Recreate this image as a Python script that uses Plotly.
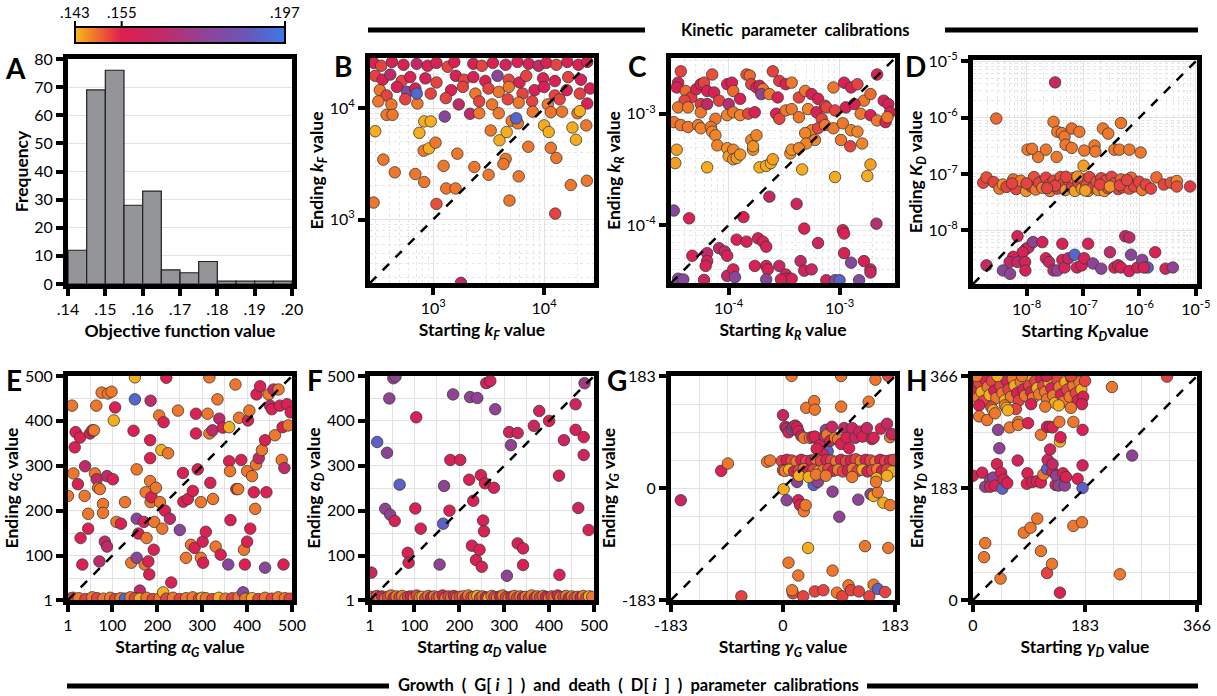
import math
import plotly.graph_objects as go

FONT = "Lato"
W, H = 1217, 696

# ---------------- data ----------------
HIST_BIN_CENTERS = [.1425, .1475, .1525, .1575, .1625, .1675, .1725, .1775, .1825, .1875, .1925, .1975]
HIST_COUNTS = [12, 69, 76, 28, 33, 5, 4, 8, 1, 1, 1, 1]

# (starting value, ending value, objective function value)
B_POINTS = [
    (290,25500,.156),(340,24000,.152),(425,26000,.157),(540,24500,.156),(710,25000,.165),(890,24000,.156),
    (1070,25500,.157),(1350,23500,.152),(1550,26000,.156),(2300,25000,.157),(2750,24000,.152),(3450,25500,.156),
    (4500,24500,.158),(5750,26000,.156),(7250,25000,.157),(8900,24000,.165),(10500,25500,.156),(12900,24500,.152),
    (16200,26000,.157),(20400,24500,.156),(24500,26000,.156),
    (300,19500,.152),(350,18000,.156),(410,20000,.165),(520,17500,.152),(620,19000,.156),(850,18500,.157),
    (1070,17000,.152),(1600,19500,.156),(1900,18000,.152),(2300,19000,.157),(2950,17500,.156),(3800,19500,.178),
    (4800,18000,.152),(6000,17000,.156),(6900,19500,.152),(9800,18500,.157),(12500,17500,.156),(16500,19000,.152),
    (21500,18000,.158),
    (330,14500,.148),(380,13000,.152),(470,15500,.157),(580,14000,.178),(690,15000,.156),(950,13500,.152),
    (1450,14500,.156),(1850,15500,.152),(2400,13500,.148),(3150,15000,.152),(3900,14000,.148),(4800,15500,.148),
    (6400,13500,.152),(8200,14500,.157),(10000,15500,.156),(12500,13000,.152),(16000,14500,.157),(21000,13500,.152),
    (26000,15000,.157),
    (320,11500,.148),(420,10800,.148),(560,12000,.152),(720,11000,.148),(1300,12300,.152),(1700,10800,.165),
    (2600,11500,.152),(3400,10800,.148),(4700,12000,.152),(5900,11200,.148),(7800,11500,.152),(10800,10800,.148),
    (13800,12000,.152),(24500,11000,.157),
    (300,6200,.144),(355,3450,.148),(450,2650,.148),(290,1420,.148),(830,2170,.148),(690,2560,.148),(820,4150,.148),
    (915,4350,.144),(1050,4900,.148),(830,7600,.144),(950,7600,.144),(750,6000,.144),(1240,3030,.148),(1310,1900,.148),
    (1590,1900,.148),(1070,1380,.151),(1650,3900,.148),(2350,2960,.148),(3160,2520,.148),(3300,6300,.148),
    (3960,5150,.144),(4600,6100,.144),(4500,3500,.148),(4300,3150,.148),(4870,1480,.148),(5900,2440,.148),
    (7200,4500,.148),(5100,7700,.148),(5800,7300,.148),(5600,8100,.192),(10000,7000,.144),(11000,6100,.144),
    (11500,4400,.148),(12900,3570,.148),(12600,1130,.152),(18000,6700,.144),(19400,5200,.144),(17400,2040,.148),
    (24300,2230,.148),(24000,7000,.148),(1270,8400,.178),(710,13500,.192),(1780,270,.165),(2150,8900,.165),
    (2600,9000,.148),(3900,9000,.148),(7900,9300,.148),(11500,9200,.148),(14500,9300,.148),(20000,9000,.148),
    (21000,9400,.144),(380,8700,.148),(430,8700,.148),
]

C_POINTS = [
    (3.5e-5,1.9e-3,.156),(3.4e-5,1.72e-3,.157),(3.7e-5,2.4e-3,.152),(4.1e-5,1.6e-3,.149),(4.6e-5,1.4e-3,.153),
    (5.1e-5,1.66e-3,.156),(5.6e-5,1.84e-3,.157),(6.0e-5,1.9e-3,.152),(6.4e-5,1.6e-3,.156),(7.1e-5,2.25e-3,.151),
    (7.4e-5,1.55e-3,.157),(8.2e-5,1.31e-3,.152),(9.7e-5,1.84e-3,.156),(1.0e-4,1.22e-3,.168),(1.07e-4,1.9e-3,.157),
    (1.1e-4,1.6e-3,.149),(1.27e-4,1.36e-3,.156),(1.45e-4,2.25e-3,.151),(1.55e-4,2.2e-3,.149),(1.6e-4,1.84e-3,.152),
    (1.78e-4,1.72e-3,.157),(1.9e-4,1.78e-3,.156),(2.04e-4,1.66e-3,.148),(1.97e-4,1.5e-3,.175),(2.33e-4,1.5e-3,.148),
    (2.5e-4,2.4e-3,.152),(2.77e-4,1.4e-3,.157),(2.86e-4,1.97e-3,.153),(3.27e-4,1.84e-3,.156),(3.7e-4,1.9e-3,.148),
    (4.3e-4,1.4e-3,.152),(4.9e-4,1.6e-3,.148),(5.6e-4,1.5e-3,.157),(6.4e-4,1.36e-3,.156),(7.4e-4,1.18e-3,.152),
    (8.8e-4,1.72e-3,.148),(1.1e-3,1.9e-3,.156),(1.27e-3,1.72e-3,.157),(1.45e-3,1.84e-3,.152),(1.66e-3,1.31e-3,.148),
    (1.9e-3,1.5e-3,.149),(2.18e-3,2.25e-3,.155),(2.5e-3,1.31e-3,.156),(2.75e-3,1.22e-3,.157),(4.0e-5,1.31e-3,.152),
    (5.6e-5,1.22e-3,.153),
    (3.5e-5,1.14e-3,.148),(4.3e-5,1.14e-3,.148),(5.6e-5,1.03e-3,.148),(6.4e-5,1.22e-3,.165),(7.6e-5,9.0e-4,.148),
    (9.7e-5,9.7e-4,.147),(1.1e-4,1.03e-3,.148),(1.27e-4,9.7e-4,.147),(1.5e-4,1.0e-3,.152),(1.72e-4,1.03e-3,.156),
    (2.68e-4,1.0e-3,.156),(2.86e-4,9.0e-4,.152),(3.27e-4,1.07e-3,.148),(3.7e-4,1.1e-3,.148),(4.3e-4,9.3e-4,.148),
    (5.2e-4,1.1e-3,.147),(6.2e-4,1.03e-3,.156),(6.9e-4,9.0e-4,.152),(7.6e-4,1.14e-3,.152),(9.1e-4,1.07e-3,.152),
    (1.14e-3,1.14e-3,.156),(1.36e-3,1.22e-3,.156),(1.55e-3,1.0e-3,.148),(1.9e-3,9.7e-4,.156),(2.18e-3,8.7e-4,.148),
    (2.6e-3,8.4e-4,.156),(2.86e-3,1.03e-3,.156),
    (3.2e-5,8.4e-4,.148),(3.7e-5,7.9e-4,.148),(4.3e-5,7.6e-4,.148),(5.3e-5,7.9e-4,.148),(5.6e-5,7.4e-4,.147),
    (6.9e-5,7.6e-4,.148),(7.1e-5,6.9e-4,.147),(7.6e-5,6.4e-4,.147),(5.6e-4,7.1e-4,.147),(6.4e-4,7.4e-4,.152),
    (7.4e-4,7.9e-4,.148),(8.8e-4,7.4e-4,.148),(1.07e-3,8.2e-4,.148),(1.27e-3,7.1e-4,.147),(2.7e-3,9.3e-4,.148),
    (6.0e-4,5.8e-4,.147),(4.9e-4,6.7e-4,.147),(5.0e-4,5.4e-4,.147),(1.03e-3,5.8e-4,.148),(1.45e-3,6.9e-4,.147),
    (1.6e-3,5.4e-4,.147),(1.25e-3,5.1e-4,.152),
    (3.4e-5,4.75e-4,.145),(3.3e-5,3.6e-4,.145),(6.4e-5,3.3e-4,.144),(7.9e-5,5.2e-4,.147),(9.7e-5,4.9e-4,.146),
    (1.0e-4,4.15e-4,.145),(1.1e-4,4.75e-4,.147),(1.1e-4,3.9e-4,.146),(1.18e-4,4.0e-4,.145),(1.27e-4,4.3e-4,.146),
    (1.6e-4,5.8e-4,.147),(1.66e-4,4.75e-4,.146),(1.66e-4,5.1e-4,.146),(1.78e-4,6.4e-4,.147),(1.9e-4,3.3e-4,.144),
    (2.18e-4,3.4e-4,.144),(2.4e-4,3.6e-4,.144),(2.5e-4,3.9e-4,.145),(3.6e-4,4.4e-4,.146),(3.7e-4,4.75e-4,.146),
    (4.3e-4,4.9e-4,.147),(4.6e-4,3.16e-4,.144),(9.1e-4,2.7e-4,.144),(1.78e-3,2.76e-4,.144),(1.9e-3,3.5e-4,.145),
    (3.2e-5,1.35e-4,.178),(4.4e-5,1.15e-4,.157),(1.36e-4,1.18e-4,.156),(2.33e-4,1.8e-4,.163),(4.1e-4,1.55e-4,.160),
    (4.8e-4,9.3e-5,.157),(1.07e-3,9.0e-5,.157),(1.1e-3,8.4e-5,.156),(2.15e-3,1.03e-4,.168),(4.7e-5,5.3e-5,.157),
    (6.4e-5,5.6e-5,.165),(6.4e-5,4.75e-5,.158),(8.2e-5,6.2e-5,.165),(9.2e-5,5.8e-5,.165),(9.7e-5,5.3e-5,.158),
    (6.2e-5,4.3e-5,.157),(9.7e-5,3.5e-5,.163),(1.1e-4,4.0e-5,.157),(1.14e-4,3.4e-5,.178),(1.18e-4,7.4e-5,.157),
    (1.45e-4,7.1e-5,.158),(1.72e-4,4.3e-5,.157),(1.84e-4,7.6e-5,.158),(2.04e-4,7.1e-5,.157),(2.18e-4,6.4e-5,.157),
    (2.18e-4,4.3e-5,.158),(2.25e-4,4.0e-5,.156),(2.86e-4,4.3e-5,.163),(3.27e-4,3.6e-5,.158),(3.4e-4,3.3e-5,.157),
    (3.7e-4,3.3e-5,.157),(4.45e-4,4.75e-5,.165),(4.8e-4,3.9e-5,.157),(5.6e-4,4.0e-5,.163),(6.4e-4,6.9e-5,.160),
    (7.6e-4,3.2e-5,.158),(9.1e-4,3.2e-5,.180),(1.1e-3,5.6e-5,.157),(1.27e-3,4.6e-5,.178),(1.5e-3,3.2e-5,.180),
    (1.66e-3,4.75e-5,.157),(1.9e-3,4.0e-5,.157),(1.9e-3,3.75e-5,.163),(3.5e-5,3.3e-5,.180),(3.9e-5,3.25e-5,.178),
    (6.0e-5,3.22e-5,.160),(2.18e-4,3.25e-5,.178),(2.96e-4,3.25e-5,.158),(1.0e-3,3.2e-5,.190),
]

D_POINTS = [
    (2.9e-9,9.6e-7,.149),(3.2e-8,4.2e-6,.163),(3.0e-8,8.4e-7,.148),(3.5e-8,5.6e-7,.148),(4.2e-8,5.3e-7,.148),
    (4.7e-8,4.6e-7,.148),(6.3e-8,6.4e-7,.149),(8.6e-8,5.6e-7,.148),(4.9e-8,3.3e-7,.148),(6.3e-8,2.9e-7,.148),
    (1.05e-7,2.6e-7,.148),(1.6e-7,3.2e-7,.148),(1.65e-7,2.5e-7,.148),(2.25e-7,6.4e-7,.148),(2.8e-7,5.2e-7,.148),
    (3.6e-7,2.7e-7,.148),(4.4e-7,2.7e-7,.148),(4.7e-7,8.0e-7,.148),(6.6e-7,2.7e-7,.148),(1.05e-6,2.4e-7,.148),
    (1.04e-8,2.7e-7,.148),(1.6e-8,2.0e-7,.148),(2.2e-8,2.7e-7,.148),(3.4e-8,2.0e-7,.148),(1.02e-7,1.4e-7,.145),
    (1.25e-8,2.8e-7,.148),
    (1.7e-9,7.0e-8,.152),(1.95e-9,8.7e-8,.151),(2.6e-9,7.2e-8,.152),(3.3e-9,5.5e-8,.148),(3.8e-9,6.5e-8,.146),
    (4.4e-9,5.9e-8,.152),(5.8e-9,8.0e-8,.149),(6.5e-9,5.4e-8,.152),(7.9e-9,7.6e-8,.148),(9.8e-9,5.0e-8,.146),
    (1.2e-8,6.0e-8,.152),(1.35e-8,8.8e-8,.151),(1.45e-8,5.3e-8,.148),(1.66e-8,7.0e-8,.152),(1.9e-8,5.7e-8,.148),
    (2.2e-8,8.6e-8,.152),(2.5e-8,6.4e-8,.151),(2.6e-8,5.0e-8,.147),(3.0e-8,7.6e-8,.152),(3.5e-8,5.5e-8,.153),
    (4.0e-8,8.8e-8,.151),(4.3e-8,6.6e-8,.152),(4.9e-8,5.2e-8,.146),(5.5e-8,7.8e-8,.152),(6.3e-8,5.8e-8,.153),
    (6.8e-8,8.5e-8,.149),(7.2e-8,5.0e-8,.145),(8.3e-8,7.0e-8,.152),(9.5e-8,5.5e-8,.146),(1.02e-7,8.0e-8,.152),
    (1.15e-7,6.2e-8,.151),(1.23e-7,5.0e-8,.147),(1.3e-7,8.8e-8,.152),(1.5e-7,5.8e-8,.152),(1.74e-7,7.3e-8,.151),
    (1.86e-7,5.2e-8,.147),(2.1e-7,8.4e-8,.152),(2.25e-7,6.0e-8,.152),(2.4e-7,5.0e-8,.145),(2.6e-7,7.7e-8,.151),
    (2.75e-7,5.6e-8,.152),(3.2e-7,8.9e-8,.152),(3.6e-7,6.8e-8,.151),(4.2e-7,5.4e-8,.152),(4.7e-7,8.0e-8,.149),
    (5.0e-7,5.8e-8,.152),(5.75e-7,7.0e-8,.152),(6.6e-7,5.5e-8,.151),(7.1e-7,8.6e-8,.149),(8.1e-7,6.0e-8,.152),
    (9.8e-7,7.3e-8,.152),(1.12e-6,5.2e-8,.148),(1.3e-6,6.5e-8,.152),(1.6e-6,5.5e-8,.152),(2.0e-6,8.7e-8,.149),
    (2.7e-6,6.5e-8,.152),(3.6e-6,7.0e-8,.151),(4.6e-6,7.5e-8,.147),(7.9e-6,6.0e-8,.153),(3.2e-8,6.2e-8,.152),
    (5.0e-8,8.9e-8,.152),(8.0e-8,9.0e-8,.146),(1.1e-7,5.1e-8,.145),(2.0e-7,6.5e-8,.152),(3.0e-7,6.0e-8,.146),
    (4.5e-7,6.3e-8,.152),(6.0e-7,7.8e-8,.152),(2.3e-8,5.6e-8,.152),(1.0e-8,6.8e-8,.152),(5.5e-9,6.8e-8,.152),
    (4.6e-6,6.0e-8,.151),
    (1.95e-9,2.4e-9,.163),(6.9e-9,7.9e-9,.158),(9.8e-9,4.7e-9,.157),(1.08e-8,5.0e-9,.157),(8.5e-9,4.1e-9,.158),
    (5.8e-9,3.4e-9,.157),(5.0e-9,2.75e-9,.163),(3.8e-9,1.95e-9,.178),(5.1e-9,1.7e-9,.176),(6.9e-9,2.75e-9,.165),
    (9.4e-9,2.75e-9,.158),(9.5e-9,1.95e-9,.158),(1.3e-8,6.2e-9,.176),(1.9e-8,6.2e-9,.157),(2.2e-8,3.2e-9,.158),
    (2.5e-8,2.75e-9,.163),(3.0e-8,1.95e-9,.165),(3.5e-8,1.95e-9,.176),(4.3e-8,5.8e-9,.157),(4.3e-8,3.0e-9,.158),
    (4.7e-8,2.2e-9,.158),(5.5e-8,3.2e-9,.163),(7.1e-8,3.7e-9,.192),(7.8e-8,2.2e-9,.158),(9.5e-8,2.4e-9,.158),
    (1.05e-7,3.2e-9,.157),(1.23e-7,5.8e-9,.157),(1.5e-7,2.6e-9,.176),(2.1e-7,2.1e-9,.178),(3.0e-7,4.1e-9,.165),
    (3.6e-7,2.2e-9,.158),(4.2e-7,2.4e-9,.158),(4.7e-7,2.2e-9,.157),(5.6e-7,7.9e-9,.163),(6.6e-7,7.5e-9,.165),
    (7.1e-7,3.7e-9,.178),(6.6e-7,1.9e-9,.158),(9.2e-7,2.2e-9,.157),(1.12e-6,3.0e-9,.176),(1.4e-6,2.2e-9,.190),
    (1.9e-6,4.1e-9,.157),(2.9e-6,2.1e-9,.158),(3.9e-6,2.2e-9,.176),(1.2e-6,2.2e-9,.158),
]

E_POINTS = [
    (10,434,.148),(18,375,.156),(16,341,.156),(13,283,.148),(23,259,.156),(28,363,.156),(29,139,.156),(33,80,.156),
    (39,299,.165),(38,233,.148),(46,193,.148),(46,160,.156),(50,372,.156),(55,379,.156),(59,379,.148),(61,283,.148),
    (64,434,.148),(65,270,.165),(68,251,.148),(71,87,.165),(72,248,.148),(76,463,.148),(79,215,.148),(79,195,.148),
    (83,131,.165),(88,120,.165),(88,277,.165),(90,461,.148),(98,465,.148),(101,270,.156),(103,401,.144),(106,430,.156),
    (109,175,.148),(119,171,.156),(128,219,.148),(142,84,.148),(147,378,.156),(150,448,.192),(154,292,.148),
    (154,182,.178),(154,95,.178),(158,149,.156),(161,22,.165),(170,175,.156),(172,80,.148),(174,241,.148),
    (176,139,.148),(180,87,.156),(182,58,.156),(184,317,.156),(185,445,.165),(184,266,.148),(184,357,.156),
    (185,219,.148),(187,230,.156),(192,113,.156),(193,175,.148),(197,251,.148),(204,412,.148),(206,219,.148),
    (209,335,.144),(211,160,.148),(214,397,.156),(217,200,.156),(224,328,.148),(228,182,.165),(231,40,.156),
    (246,423,.148),(250,157,.178),(257,284,.156),(258,220,.156),(264,95,.148),(268,226,.156),(275,124,.148),
    (279,244,.156),(283,117,.156),(286,416,.156),(286,372,.156),(290,292,.156),(297,219,.148),(297,95,.148),
    (301,131,.156),(302,84,.156),(308,153,.156),(312,416,.148),(316,372,.148),(318,262,.156),(323,379,.165),
    (324,226,.148),(330,120,.148),(334,448,.148),(338,405,.165),(341,102,.156),(346,385,.156),(358,80,.178),
    (360,310,.156),(360,386,.144),(362,288,.148),(363,179,.156),(374,481,.148),(376,248,.156),(380,248,.148),
    (382,407,.148),(387,313,.156),(393,113,.148),(395,80,.156),(400,131,.156),(400,288,.148),(402,401,.156),
    (405,423,.148),(407,160,.156),(411,277,.148),(415,241,.156),(418,204,.148),(420,303,.148),(421,459,.156),
    (426,317,.165),(429,477,.156),(433,335,.148),(440,73,.178),(440,357,.156),(443,241,.156),(448,459,.148),
    (451,434,.165),(455,426,.156),(459,470,.165),(462,368,.148),(470,470,.148),(473,434,.156),(477,313,.148),
    (479,386,.156),(481,80,.156),(483,295,.165),(489,437,.156),(492,390,.148),(497,419,.156),(150,497,.144),
    (220,496,.156),(316,497,.148),(1,233,.148),
    (5,4,.148),(12,6,.152),(25,5,.148),(40,3,.152),(55,7,.148),(66,5,.152),(80,4,.148),(95,6,.148),(106,3,.152),
    (118,5,.148),(128,4,.192),(140,7,.148),(150,5,.152),(161,4,.144),(176,6,.148),(190,3,.152),(205,5,.148),
    (213,18,.144),(220,4,.152),(235,6,.148),(250,3,.152),(264,5,.148),(279,7,.148),(293,4,.152),(300,6,.144),
    (308,5,.148),(323,3,.152),(337,6,.144),(352,4,.148),(367,5,.152),(381,7,.148),(391,18,.178),(396,4,.148),
    (411,5,.144),(425,3,.152),(440,6,.148),(455,4,.152),(469,7,.148),(484,5,.148),(495,4,.152),
]

F_POINTS = [
    (4,62,.163),(17,353,.190),(35,204,.176),(39,329,.176),(44,450,.176),(46,191,.176),(56,177,.157),(53,495,.176),
    (58,499,.176),(67,258,.190),(85,106,.157),(87,84,.157),(102,205,.157),(104,408,.157),(114,160,.157),
    (156,80,.176),(164,171,.190),(166,255,.176),(178,200,.157),(180,313,.157),(186,459,.176),(202,313,.157),
    (222,269,.157),(224,453,.176),(228,122,.157),(231,222,.157),(237,90,.157),(240,451,.176),(245,113,.157),
    (248,279,.157),(250,75,.157),(253,178,.157),(255,154,.157),(257,261,.157),(260,484,.160),(269,489,.160),
    (277,251,.157),(280,426,.176),(306,55,.176),(311,375,.160),(315,346,.176),(330,373,.160),(330,127,.157),
    (342,116,.157),(342,79,.157),(366,389,.160),(378,422,.160),(400,400,.157),(422,278,.157),(423,57,.157),
    (433,357,.160),(459,437,.160),(459,380,.157),(465,206,.160),(477,364,.157),(477,324,.160),(479,484,.172),
    (488,157,.157),
    (3,8,.148),(10,6,.144),(16,10,.152),(22,7,.148),(28,9,.157),(35,5,.148),(41,8,.152),(48,11,.148),(54,6,.157),
    (60,9,.148),(67,7,.152),(73,10,.148),(80,5,.148),(86,8,.152),(92,9,.157),(99,6,.148),(105,11,.152),(112,7,.148),
    (118,8,.144),(124,5,.152),(131,10,.148),(137,7,.157),(144,9,.148),(150,6,.152),(156,8,.148),(163,11,.157),
    (169,5,.148),(176,9,.152),(182,7,.148),(188,10,.157),(195,6,.148),(201,8,.152),(208,9,.148),(214,5,.157),
    (220,11,.148),(227,7,.152),(233,8,.148),(240,10,.144),(246,6,.152),(252,9,.148),(259,7,.157),(265,5,.144),
    (272,10,.148),(278,8,.152),(284,6,.148),(291,9,.157),(297,11,.148),(304,7,.152),(310,5,.148),(316,8,.157),
    (323,10,.148),(329,6,.152),(336,9,.148),(342,7,.157),(348,8,.148),(355,5,.152),(361,11,.148),(368,6,.157),
    (374,9,.148),(380,7,.152),(387,10,.148),(393,8,.157),(400,5,.148),(406,9,.152),(412,6,.148),(419,11,.157),
    (425,7,.148),(432,8,.152),(438,10,.148),(444,5,.157),(451,9,.148),(457,6,.152),(464,8,.148),(470,7,.157),
    (476,10,.148),(483,6,.152),(489,9,.144),(496,8,.148),
]

G_POINTS = [
    (-167,-20,.163),(-101,28,.156),(-90,40,.148),(-68,-177,.152),(-26,43,.148),(-21,45,.148),(1,-2,.144),
    (0,119,.163),(4,100,.156),(6,97,.163),(9,91,.156),(14,96,.176),(17,100,.176),(20,102,.163),(23,99,.156),
    (25,93,.156),(6,-20,.176),(23,10,.176),(25,-20,.156),(28,-28,.156),(34,-38,.148),(37,-28,.148),(50,5,.190),
    (57,10,.176),(38,131,.148),(51,142,.148),(52,128,.148),(9,-122,.148),(25,-143,.148),(41,-98,.144),
    (16,-172,.152),(15,-167,.148),(33,-177,.152),(52,-169,.152),(66,-167,.152),(81,-135,.148),(88,-171,.148),
    (97,-177,.152),(107,-159,.148),(111,-167,.152),(124,-169,.152),(134,-95,.148),(141,-177,.152),(148,-158,.148),
    (155,-165,.190),(167,-170,.152),(172,-98,.148),(81,-6,.176),(92,-47,.176),(123,-19,.176),(143,-10,.176),
    (148,-13,.144),(155,-7,.148),(164,-24,.144),(175,-28,.148),(95,133,.148),(140,141,.148),(151,177,.148),
    (14,183,.148),(95,183,.148),(172,183,.152),(73,60,.190),
    (30,85,.163),(34,82,.148),(44,82,.148),(48,83,.156),(52,84,.156),(60,70,.156),(68,85,.163),(70,95,.176),
    (72,87,.148),(77,77,.156),(80,100,.163),(85,82,.148),(90,80,.148),(95,72,.156),(100,98,.163),(104,82,.156),
    (108,65,.156),(113,98,.163),(118,82,.163),(125,92,.156),(130,84,.156),(137,98,.163),(145,80,.163),
    (148,82,.156),(160,97,.156),(170,105,.163),(175,83,.148),(178,88,.163),(65,55,.156),(55,64,.156),(115,45,.156),
    (-2,44,.152),(6,46,.156),(14,45,.152),(22,43,.148),(30,46,.156),(38,44,.152),(46,45,.156),(54,47,.148),
    (62,44,.152),(71,46,.156),(79,45,.152),(87,43,.148),(95,46,.156),(103,44,.152),(111,45,.156),(119,47,.152),
    (127,44,.148),(135,46,.156),(143,45,.152),(151,43,.148),(159,46,.156),(167,44,.152),(175,45,.156),(181,46,.152),
    (0,29,.152),(3,28,.148),(10,30,.144),(18,27,.156),(26,29,.152),(34,31,.148),(42,28,.156),(50,30,.152),
    (58,27,.144),(66,29,.148),(74,31,.152),(82,28,.156),(90,30,.148),(98,27,.152),(106,29,.156),(114,31,.148),
    (122,28,.152),(130,30,.144),(138,27,.156),(146,29,.152),(154,31,.148),(162,28,.156),(170,30,.152),(178,27,.144),
    (26,20,.144),(42,18,.144),(54,22,.148),(70,20,.148),(113,18,.148),(153,16,.144),(170,20,.144),(152,10,.148),
]

H_POINTS = [
    (2,362,.148),(5,345,.156),(8,330,.148),(10,355,.152),(14,340,.144),(17,325,.152),(20,360,.156),(24,348,.148),
    (27,335,.144),(31,358,.152),(35,342,.156),(38,330,.148),(42,364,.144),(45,350,.152),(48,338,.148),(52,326,.144),
    (55,358,.156),(58,344,.152),(62,332,.148),(65,362,.148),(68,350,.144),(72,338,.156),(75,326,.152),(78,356,.148),
    (82,344,.156),(85,334,.148),(88,362,.144),(92,350,.152),(95,340,.156),(98,330,.148),(102,358,.152),(105,346,.144),
    (108,336,.148),(112,362,.156),(115,350,.152),(118,340,.148),(121,328,.148),(124,356,.144),(128,346,.156),
    (131,334,.148),(134,322,.144),(138,360,.152),(141,348,.148),(144,336,.156),(148,324,.148),(151,356,.144),
    (154,344,.152),(158,332,.148),(161,362,.156),(164,350,.148),(168,338,.152),(171,326,.156),(174,356,.148),
    (177,344,.144),(180,332,.156),(183,358,.152),(10,318,.156),(30,315,.152),(52,318,.148),(70,312,.152),
    (95,320,.156),(118,316,.148),(140,318,.144),(160,314,.148),(178,320,.156),(6,366,.148),(40,366,.144),
    (80,366,.148),(120,366,.156),(160,366,.152),
    (10,300,.148),(23,294,.148),(33,310,.144),(36,305,.148),(55,314,.144),(57,310,.144),(60,282,.148),(74,291,.148),
    (74,286,.148),(90,289,.156),(111,270,.148),(121,283,.156),(126,283,.156),(130,282,.156),(141,291,.148),
    (142,259,.144),(143,266,.156),(164,291,.148),(179,278,.156),
    (0,203,.156),(15,208,.156),(20,185,.176),(28,197,.176),(28,185,.156),(33,200,.176),(36,187,.156),(41,278,.176),
    (43,248,.176),(39,222,.156),(46,208,.156),(48,182,.190),(50,197,.156),(56,191,.156),(73,228,.160),(89,207,.156),
    (88,190,.156),(97,193,.156),(104,194,.156),(111,192,.156),(115,205,.148),(121,214,.190),(122,229,.160),
    (130,210,.156),(135,188,.156),(136,203,.176),(140,187,.176),(147,207,.156),(150,187,.176),(152,201,.156),
    (171,198,.156),(179,220,.160),(179,183,.190),(126,246,.160),(130,222,.165),
    (20,93,.148),(18,70,.148),(45,35,.148),(83,110,.148),(94,118,.148),(105,133,.148),(111,80,.148),(121,44,.152),
    (129,59,.148),(142,12,.156),(164,121,.148),(178,127,.148),(240,42,.148),(260,236,.176),(227,348,.148),
    (317,365,.152),
]

OBJ_MIN, OBJ_MAX = .143, .197
COLORBAR_TICKS = [.143, .155, .197]
COLORBAR_LABELS = [".143", ".155", ".197"]

HIST_XTICKS = [.14, .15, .16, .17, .18, .19, .20]
HIST_XLABELS = [".14", ".15", ".16", ".17", ".18", ".19", ".20"]
HIST_YTICKS = [0, 10, 20, 30, 40, 50, 60, 70, 80]

LIN_TICKS = [1, 100, 200, 300, 400, 500]
LIN_MINOR = [50, 150, 250, 350, 450]
G_TICKS = [-183, 0, 183]
H_TICKS = [0, 183, 366]
GAMMA_MINOR_G = [-137.25, -91.5, -45.75, 45.75, 91.5, 137.25]
GAMMA_MINOR_H = [45.75, 91.5, 137.25, 228.75, 274.5, 320.25]

TOP_HEADER = "Kinetic parameter calibrations"
BOTTOM_HEADER = "Growth ( G[ <i>i</i> ] ) and death ( D[ <i>i</i> ] ) parameter calibrations"

# ---------------- styling ----------------
COLORSCALE = [
    [0.0, "#F7BA1B"], [0.11, "#EE6A2E"], [0.22, "#DE1F50"], [0.42, "#BF2B6A"],
    [0.62, "#8E4496"], [0.82, "#6B56B8"], [1.0, "#3A7AE8"],
]

def px_dom_x(a, b):
    return [a / W, b / W]

def px_dom_y(top, bot):
    return [1 - bot / H, 1 - top / H]

DOMAINS = {
    1: ((68, 292), (59, 284)),
    2: ((370, 594), (58, 283)),
    3: ((671, 895), (58, 283)),
    4: ((973, 1197), (60, 284)),
    5: ((68, 292), (376, 600)),
    6: ((370, 594), (376, 600)),
    7: ((671, 895), (376, 600)),
    8: ((973, 1197), (376, 600)),
}

TICKFONT = dict(family=FONT, size=16, color="black")
TITLEFONT = dict(family=FONT, size=17.5, color="black", weight="bold")

def base_axis(n, is_x):
    (xa, xb), (yt, yb) = DOMAINS[n]
    d = dict(
        showline=True, linecolor="black", linewidth=5, mirror=True,
        ticks="outside", ticklen=7, tickwidth=4, tickcolor="black",
        showgrid=True, gridcolor="#e2e2e2", gridwidth=1, zeroline=False,
        tickfont=TICKFONT, layer="above traces", automargin=False,
    )
    if is_x:
        d["domain"] = px_dom_x(xa, xb)
        d["anchor"] = "y" if n == 1 else f"y{n}"
    else:
        d["domain"] = px_dom_y(yt, yb)
        d["anchor"] = "x" if n == 1 else f"x{n}"
    return d

def title_dict(text, is_x):
    return dict(text=text, font=TITLEFONT, standoff=9 if is_x else 3)

def log_minor(lo_exp, hi_exp):
    return [m * 10.0 ** e for e in range(lo_exp, hi_exp) for m in range(2, 10)]

def log_axis(n, is_x, rng, tickvals, title, minor_vals):
    d = base_axis(n, is_x)
    d.update(type="log", range=rng, tickvals=tickvals,
             ticktext=[f"10<sup>{int(round(math.log10(v)))}</sup>" for v in tickvals],
             minor=dict(tickvals=minor_vals, showgrid=True, gridcolor="#e6e6e6", griddash="dot", ticks=""),
             title=title_dict(title, is_x))
    return d

def lin_axis(n, is_x, rng, tickvals, title, minor_vals, ticktext=None):
    d = base_axis(n, is_x)
    d.update(range=rng, tickvals=tickvals, ticktext=ticktext or [str(v) for v in tickvals],
             minor=dict(tickvals=minor_vals, showgrid=True, gridcolor="#e2e2e2", ticks=""),
             title=title_dict(title, is_x))
    return d

fig = go.Figure()

# histogram (panel A)
fig.add_trace(go.Bar(
    x=HIST_BIN_CENTERS, y=HIST_COUNTS, width=0.005,
    marker=dict(color="#939598", line=dict(color="#231f20", width=1.2)),
    xaxis="x", yaxis="y", showlegend=False, hoverinfo="skip",
))

PANELS = [
    (2, B_POINTS, (2.43, 4.45), True),
    (3, C_POINTS, (-4.52, -2.50), True),
    (4, D_POINTS, (-8.95, -4.98), True),
    (5, E_POINTS, (1, 500), False),
    (6, F_POINTS, (1, 500), False),
    (7, G_POINTS, (-183, 183), False),
    (8, H_POINTS, (0, 366), False),
]

for n, pts, rng, is_log in PANELS:
    xs = [p[0] for p in pts]
    ys = [p[1] for p in pts]
    cs = [p[2] for p in pts]
    fig.add_trace(go.Scatter(
        x=xs, y=ys, mode="markers", xaxis=f"x{n}", yaxis=f"y{n}", showlegend=False,
        marker=dict(size=11.5, color=cs, coloraxis="coloraxis",
                    line=dict(color="#3a3a3a", width=0.8)),
    ))
    if is_log:
        lo, hi = 10 ** rng[0], 10 ** rng[1]
    else:
        lo, hi = rng
    fig.add_trace(go.Scatter(
        x=[lo, hi], y=[lo, hi], mode="lines", xaxis=f"x{n}", yaxis=f"y{n}", showlegend=False,
        line=dict(color="black", width=2.5, dash="dash"), hoverinfo="skip",
    ))

# colour bar geometry (pixels)
CB_X0, CB_LEN, CB_TOP, CB_THICK = 75, 210, 27, 16

layout = dict(
    template="none",
    width=W, height=H, margin=dict(l=0, r=0, t=0, b=0, pad=0), autosize=False,
    paper_bgcolor="white", plot_bgcolor="white",
    font=dict(family=FONT, color="black"),
    coloraxis=dict(
        colorscale=COLORSCALE, cmin=OBJ_MIN, cmax=OBJ_MAX,
        colorbar=dict(
            orientation="h", x=CB_X0 / W, xanchor="left", y=1 - CB_TOP / H, yanchor="top",
            len=CB_LEN, lenmode="pixels", thickness=CB_THICK, thicknessmode="pixels",
            outlinewidth=2, outlinecolor="black", borderwidth=0,
            tickvals=COLORBAR_TICKS, ticks="", showticklabels=False,
            xpad=0, ypad=0,
        ),
    ),
)

# panel A axes
ax = base_axis(1, True)
ax.update(range=[.14, .20], tickvals=HIST_XTICKS, ticktext=HIST_XLABELS, showgrid=False,
          title=title_dict("Objective function value", True))
layout["xaxis"] = ax
ay = base_axis(1, False)
ay.update(range=[0, 80], tickvals=HIST_YTICKS, title=title_dict("Frequency", False))
layout["yaxis"] = ay

# panels B-D (log)
layout["xaxis2"] = log_axis(2, True, [2.43, 4.45], [1e3, 1e4], "Starting <i>k</i><sub><i>F</i></sub> value", log_minor(2, 5))
layout["yaxis2"] = log_axis(2, False, [2.43, 4.45], [1e3, 1e4], "Ending <i>k</i><sub><i>F</i></sub> value", log_minor(2, 5))
layout["xaxis3"] = log_axis(3, True, [-4.52, -2.50], [1e-4, 1e-3], "Starting <i>k</i><sub><i>R</i></sub> value", log_minor(-5, -2))
layout["yaxis3"] = log_axis(3, False, [-4.52, -2.50], [1e-4, 1e-3], "Ending <i>k</i><sub><i>R</i></sub> value", log_minor(-5, -2))
layout["xaxis4"] = log_axis(4, True, [-8.95, -4.98], [1e-8, 1e-7, 1e-6, 1e-5], "Starting <i>K</i><sub><i>D</i></sub>value", log_minor(-9, -5))
layout["yaxis4"] = log_axis(4, False, [-8.95, -4.98], [1e-8, 1e-7, 1e-6, 1e-5], "Ending <i>K</i><sub><i>D</i></sub> value", log_minor(-9, -5))

# panels E-H (linear)
layout["xaxis5"] = lin_axis(5, True, [1, 500], LIN_TICKS, "Starting <i>α</i><sub><i>G</i></sub> value", LIN_MINOR)
layout["yaxis5"] = lin_axis(5, False, [1, 500], LIN_TICKS, "Ending <i>α</i><sub><i>G</i></sub> value", LIN_MINOR)
layout["xaxis6"] = lin_axis(6, True, [1, 500], LIN_TICKS, "Starting <i>α</i><sub><i>D</i></sub> value", LIN_MINOR)
layout["yaxis6"] = lin_axis(6, False, [1, 500], LIN_TICKS, "Ending <i>α</i><sub><i>D</i></sub> value", LIN_MINOR)
layout["xaxis7"] = lin_axis(7, True, [-183, 183], G_TICKS, "Starting <i>γ</i><sub><i>G</i></sub> value", GAMMA_MINOR_G)
layout["yaxis7"] = lin_axis(7, False, [-183, 183], G_TICKS, "Ending <i>γ</i><sub><i>G</i></sub> value", GAMMA_MINOR_G)
layout["xaxis8"] = lin_axis(8, True, [0, 366], H_TICKS, "Starting <i>γ</i><sub><i>D</i></sub> value", GAMMA_MINOR_H)
layout["yaxis8"] = lin_axis(8, False, [0, 366], H_TICKS, "Ending <i>γ</i><sub><i>D</i></sub> value", GAMMA_MINOR_H)

fig.update_layout(**layout)

# colour-bar tick marks and labels (drawn above the bar)
for v, lab in zip(COLORBAR_TICKS, COLORBAR_LABELS):
    xpx = CB_X0 + (v - OBJ_MIN) / (OBJ_MAX - OBJ_MIN) * CB_LEN
    fig.add_shape(type="line", xref="paper", yref="paper", x0=xpx / W, x1=xpx / W,
                  y0=1 - CB_TOP / H, y1=1 - (CB_TOP - 6) / H, line=dict(color="black", width=2))
    fig.add_annotation(text=lab, x=xpx / W, y=1 - (CB_TOP - 6) / H, xref="paper", yref="paper",
                       showarrow=False, xanchor="center", yanchor="bottom", yshift=-2,
                       font=dict(family=FONT, size=15, color="black"))

# panel letters
LETTERS = [("A", 15, 68), ("B", 343, 66), ("C", 637, 66), ("D", 915, 66),
           ("E", 14, 380), ("F", 315, 380), ("G", 617, 380), ("H", 917, 380)]
for txt, x, y in LETTERS:
    fig.add_annotation(text=f"<b>{txt}</b>", x=x / W, y=1 - y / H, xref="paper", yref="paper",
                       showarrow=False, font=dict(family=FONT, size=28, color="black"),
                       xanchor="center", yanchor="middle")

# section headers (word spacing widened with non-breaking spaces)
def widen(s):
    return s.replace(" ", " \u00a0")

fig.add_annotation(text=f"<b>{widen(TOP_HEADER)}</b>", x=795 / W, y=1 - 30 / H,
                   xref="paper", yref="paper", showarrow=False,
                   font=dict(family=FONT, size=16.5, color="black"), xanchor="center", yanchor="middle")
fig.add_annotation(text=f"<b>{widen(BOTTOM_HEADER).replace('<i>', '<i>').replace(' \u00a0<i>', ' <i>')}</b>",
                   x=628 / W, y=1 - 685 / H, xref="paper", yref="paper", showarrow=False,
                   font=dict(family=FONT, size=16.5, color="black"), xanchor="center", yanchor="middle")
for x0, x1, y in [(368, 645, 30), (945, 1198, 30), (67, 389, 686), (867, 1198, 686)]:
    fig.add_shape(type="line", xref="paper", yref="paper", x0=x0 / W, x1=x1 / W,
                  y0=1 - y / H, y1=1 - y / H, line=dict(color="black", width=5))

fig.write_html("out.html")
